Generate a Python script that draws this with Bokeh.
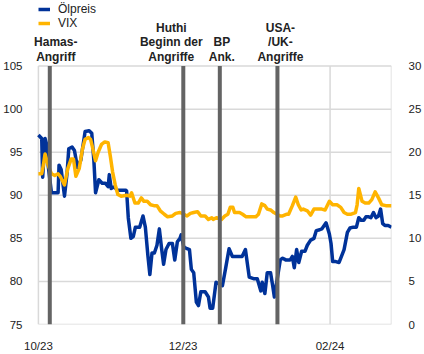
import datetime as dt
from bokeh.plotting import figure
from bokeh.models import (Range1d, LinearAxis, FixedTicker, Label,
                          Legend, LegendItem, ColumnDataSource)
from bokeh.embed import file_html
from bokeh.resources import INLINE

# ---------------- data ----------------
start = dt.datetime(2023, 10, 1)          # day 0 of the x axis
x_end_day = 148.9                          # last day shown (late Feb 2024)

# Oil price (left axis), x = days since 1 Oct 2023
oil_day = [0, 1.4, 1.8, 2.8, 3.4, 4.1, 5.5, 6.6, 8.3, 8.7,
           9.6, 11.0, 12.1, 12.8, 14.2, 15.2, 16.5, 17.9, 18.6, 19.7,
           21.4, 22.5, 23.4, 24.1, 25.5, 26.9, 28.2, 29.4, 29.9, 30.7,
           32.1, 33.1, 35.2, 36.8, 37.2, 37.9, 39.0, 40.0, 40.9, 42.7,
           44.1, 45.1, 46.2, 47.0, 47.9, 48.9, 50.0, 51.0, 52.0, 52.8,
           53.8, 55.1, 56.5, 57.5, 58.6, 59.7, 60.2, 61.3, 62.7, 63.7,
           64.5, 65.5, 66.6, 67.5, 68.5, 70.3, 71.7, 72.4, 73.5, 74.9,
           77.6, 79.0, 80.4, 81.8, 84.1, 85.9, 87.3, 88.9, 91.0, 92.3,
           93.8, 94.4, 95.5, 96.5, 97.9, 98.8, 99.5, 102.0, 103.0, 104.3,
           106.2, 107.1, 107.9, 108.9, 109.8, 111.0, 112.4, 113.4, 114.8, 116.2,
           117.2, 118.6, 119.5, 121.3, 122.7, 123.4, 124.1, 125.4, 126.8, 127.8,
           128.9, 130.3, 131.4, 132.8, 134.1, 135.1, 136.1, 137.2, 138.1, 139.3,
           140.2, 141.3, 142.4, 143.4, 144.3, 145.2, 146.1, 147.5, 148.9]
oil_price = [97.0, 96.6, 92.1, 96.6, 96.0, 93.5, 90.3, 90.3, 90.3, 93.5,
             93.0, 89.9, 92.6, 95.4, 95.6, 95.2, 93.2, 94.1, 95.4, 97.4,
             97.5, 97.2, 94.0, 90.3, 91.8, 91.4, 91.4, 91.0, 92.4, 90.8,
             91.0, 90.6, 90.6, 90.6, 90.5, 87.4, 85.0, 85.2, 86.3, 86.3,
             87.6, 86.3, 82.9, 80.8, 83.3, 83.3, 84.2, 86.1, 83.7, 82.0,
             83.7, 84.4, 84.4, 82.5, 84.6, 85.0, 85.4, 84.0, 83.8, 83.7,
             81.4, 81.0, 77.6, 77.2, 78.8, 78.8, 78.2, 76.9, 76.9, 79.9,
             79.5, 81.6, 83.8, 82.9, 82.9, 82.9, 83.7, 80.5, 80.3, 80.3,
             78.9, 79.9, 78.6, 81.0, 81.0, 79.5, 78.2, 82.5, 82.7, 82.5,
             82.5, 82.9, 81.6, 83.7, 82.2, 83.5, 83.5, 84.2, 84.8, 85.0,
             85.9, 86.0, 86.1, 86.8, 85.5, 84.4, 82.3, 82.3, 82.2, 82.9,
             83.7, 85.7, 86.2, 86.3, 86.3, 87.4, 87.1, 87.1, 87.5, 87.5,
             87.4, 88.0, 87.4, 87.6, 88.4, 86.7, 86.5, 86.5, 86.3]

# VIX (right axis)
vix_day = [0, 1.4, 2.1, 2.8, 4.1, 5.5, 6.9, 8.3, 9.2, 11.0,
           12.4, 13.8, 14.8, 15.8, 17.2, 18.6, 19.7, 21.1, 22.0, 22.7,
           24.1, 25.2, 26.6, 28.0, 29.4, 30.3, 31.3, 32.4, 33.5, 34.9,
           37.2, 38.6, 39.3, 40.7, 42.1, 43.4, 44.5, 45.9, 47.3, 48.7,
           50.0, 51.4, 53.1, 54.5, 56.5, 57.9, 59.7, 61.3, 62.7, 64.1,
           65.5, 67.1, 68.5, 70.3, 71.7, 73.1, 73.7, 75.1, 77.2, 78.6,
           79.9, 80.9, 82.0, 82.7, 84.8, 86.1, 87.6, 89.6, 91.7, 92.8,
           94.2, 95.5, 96.5, 97.9, 99.3, 100.6, 102.0, 103.0, 104.8, 105.5,
           107.1, 108.5, 109.6, 110.8, 111.7, 113.4, 114.8, 116.2, 117.9, 119.5,
           120.9, 122.7, 124.1, 125.9, 127.5, 128.9, 130.3, 131.9, 133.7, 134.4,
           135.1, 136.5, 137.8, 139.3, 140.6, 142.0, 143.4, 144.8, 146.5, 148.9]
vix_value = [17.5, 17.5, 18.5, 19.8, 18.5, 17.5, 17.3, 17.5, 17.2, 16.2,
             18.1, 19.2, 19.2, 17.2, 18.1, 20.4, 21.5, 21.7, 21.5, 20.7,
             19.0, 20.0, 20.9, 21.2, 21.1, 19.6, 17.7, 16.2, 15.1, 14.9,
             15.0, 14.9, 15.3, 14.1, 14.1, 14.7, 14.3, 14.3, 13.9, 13.8,
             13.8, 13.2, 12.8, 12.5, 12.6, 12.9, 13.0, 12.8, 12.6, 12.9,
             13.0, 13.1, 12.6, 12.6, 12.2, 12.4, 12.2, 12.4, 12.2, 12.6,
             12.8, 13.6, 13.6, 13.0, 13.0, 12.8, 12.5, 12.5, 12.5, 12.8,
             14.0, 13.8, 13.4, 13.3, 13.0, 12.8, 12.6, 12.6, 12.8, 12.8,
             13.8, 14.8, 13.9, 13.3, 13.4, 13.2, 12.7, 13.4, 13.4, 13.4,
             13.3, 14.3, 13.9, 13.9, 13.6, 13.0, 12.8, 12.8, 13.0, 13.9,
             15.8, 14.3, 14.1, 14.1, 14.5, 15.4, 14.7, 13.9, 13.8, 13.8]

# Events (vertical lines)
event_day = [4.8, 61.1, 76.5, 100.8]
event_label = ["Hamas-\nAngriff", "Huthi\nBeginn der\nAngriffe", "BP\nAnk.", "USA-\n/UK-\nAngriffe"]

# X ticks
tick_day = [0, 61, 123]
tick_labels = ["10/23", "12/23", "02/24"]

# Axis ticks
left_ticks = [75, 80, 85, 90, 95, 100, 105]
right_ticks = [0, 5, 10, 15, 20, 25, 30]

series_names = ["Ölpreis", "VIX"]

# ---------------- helpers ----------------
EPOCH = dt.datetime(1970, 1, 1)


def day_ms(d):
    return ((start + dt.timedelta(days=d)) - EPOCH).total_seconds() * 1000.0


FONT = "Liberation Sans"
BLUE = "#003299"
YELLOW = "#FFB400"
GRID = "#d9d9d9"
EVENT = "#646464"
TXT = "#222222"

# layout: the frame is larger than the chart band so that the texts above it
# (event labels, legend) are drawn inside the frame and not clipped
FRAME_LEFT_PAD = 5                 # px of frame left of the first day
PLOT_W = 360.0                     # px width of the chart band
PLOT_H = 261.6                     # px height of the 75..105 band
FRAME_H = 328                      # frame height (band + space above)
px_per_day = PLOT_W / x_end_day

y_lo, y_hi = left_ticks[0], left_ticks[-1]
r_lo, r_hi = right_ticks[0], right_ticks[-1]
top_val = y_lo + (y_hi - y_lo) * FRAME_H / PLOT_H
top_r = r_lo + (r_hi - r_lo) * FRAME_H / PLOT_H
x_start_day = -FRAME_LEFT_PAD / px_per_day

p = figure(width=424, height=354, x_axis_type="datetime",
           output_backend="svg", toolbar_location=None,
           x_range=Range1d(day_ms(x_start_day), day_ms(x_end_day)),
           y_range=Range1d(y_lo, top_val),
           min_border_left=35 - FRAME_LEFT_PAD, min_border_right=29,
           min_border_top=0, min_border_bottom=26)
p.background_fill_color = "white"
p.border_fill_color = "white"
p.outline_line_color = None
p.extra_y_ranges = {"vix": Range1d(r_lo, top_r)}

# axes
xa = p.xaxis[0]
xa.ticker = FixedTicker(ticks=[day_ms(d) for d in tick_day])
xa.major_label_overrides = {day_ms(d): lab for d, lab in zip(tick_day, tick_labels)}
ya = p.yaxis[0]
ya.ticker = FixedTicker(ticks=left_ticks)
ra = LinearAxis(y_range_name="vix", ticker=FixedTicker(ticks=right_ticks))
p.add_layout(ra, "right")

for ax in (xa, ya, ra):
    ax.axis_line_color = None
    ax.major_tick_line_color = None
    ax.minor_tick_line_color = None
    ax.major_label_text_font = FONT
    ax.major_label_text_font_size = "11.5px"
    ax.major_label_text_color = TXT
xa.major_label_standoff = 9
ya.major_label_standoff = 10 - FRAME_LEFT_PAD
ra.major_label_standoff = 11

p.xgrid.visible = False
p.ygrid.visible = False

# grid lines limited to the chart band, plus right frame edge
x_first, x_last = day_ms(0), day_ms(x_end_day)
p.segment(x0=[x_first] * len(left_ticks), x1=[x_last] * len(left_ticks),
          y0=left_ticks, y1=left_ticks, line_color=GRID, line_width=1.5)
vx = [day_ms(d) for d in tick_day] + [x_last]
p.segment(x0=vx, x1=vx, y0=[y_lo] * len(vx), y1=[y_hi] * len(vx),
          line_color=GRID, line_width=1.5)

oil_src = ColumnDataSource(dict(x=[day_ms(d) for d in oil_day], y=oil_price))
vix_src = ColumnDataSource(dict(x=[day_ms(d) for d in vix_day], y=vix_value))

r_oil = p.line("x", "y", source=oil_src, line_color=BLUE, line_width=3.5,
               line_join="round")
r_vix = p.line("x", "y", source=vix_src, y_range_name="vix",
               line_color=YELLOW, line_width=3.5, line_join="round")

ex = [day_ms(d) for d in event_day]
p.segment(x0=ex, x1=ex, y0=[y_lo] * len(ex), y1=[y_hi] * len(ex),
          line_color=EVENT, line_width=4)

# event labels (above the 75..105 band)
px_per_unit = PLOT_H / (y_hi - y_lo)
bottom_line_y = y_hi + (66.7 - 57) / px_per_unit
line_step = 14.5 / px_per_unit
label_dx = [6, -12, 2, 3]
for d, text, dx in zip(event_day, event_label, label_dx):
    lines = text.split("\n")
    for i, ln in enumerate(reversed(lines)):
        p.add_layout(Label(x=day_ms(d), y=bottom_line_y + i * line_step,
                           text=ln, x_offset=dx,
                           text_align="center", text_baseline="middle",
                           text_font=FONT, text_font_style="bold",
                           text_font_size="12px", text_color=TXT))

legend = Legend(items=[LegendItem(label=series_names[0], renderers=[r_oil]),
                       LegendItem(label=series_names[1], renderers=[r_vix])],
                location=(FRAME_LEFT_PAD, FRAME_H - 6 - 28),
                orientation="vertical",
                padding=0, margin=0, spacing=0,
                glyph_width=12, glyph_height=14, label_height=14,
                label_standoff=8,
                label_text_font=FONT, label_text_font_size="12px",
                label_text_color=TXT,
                background_fill_alpha=0, border_line_color=None)
p.add_layout(legend)

open("out.html", "w").write(file_html(p, INLINE))
